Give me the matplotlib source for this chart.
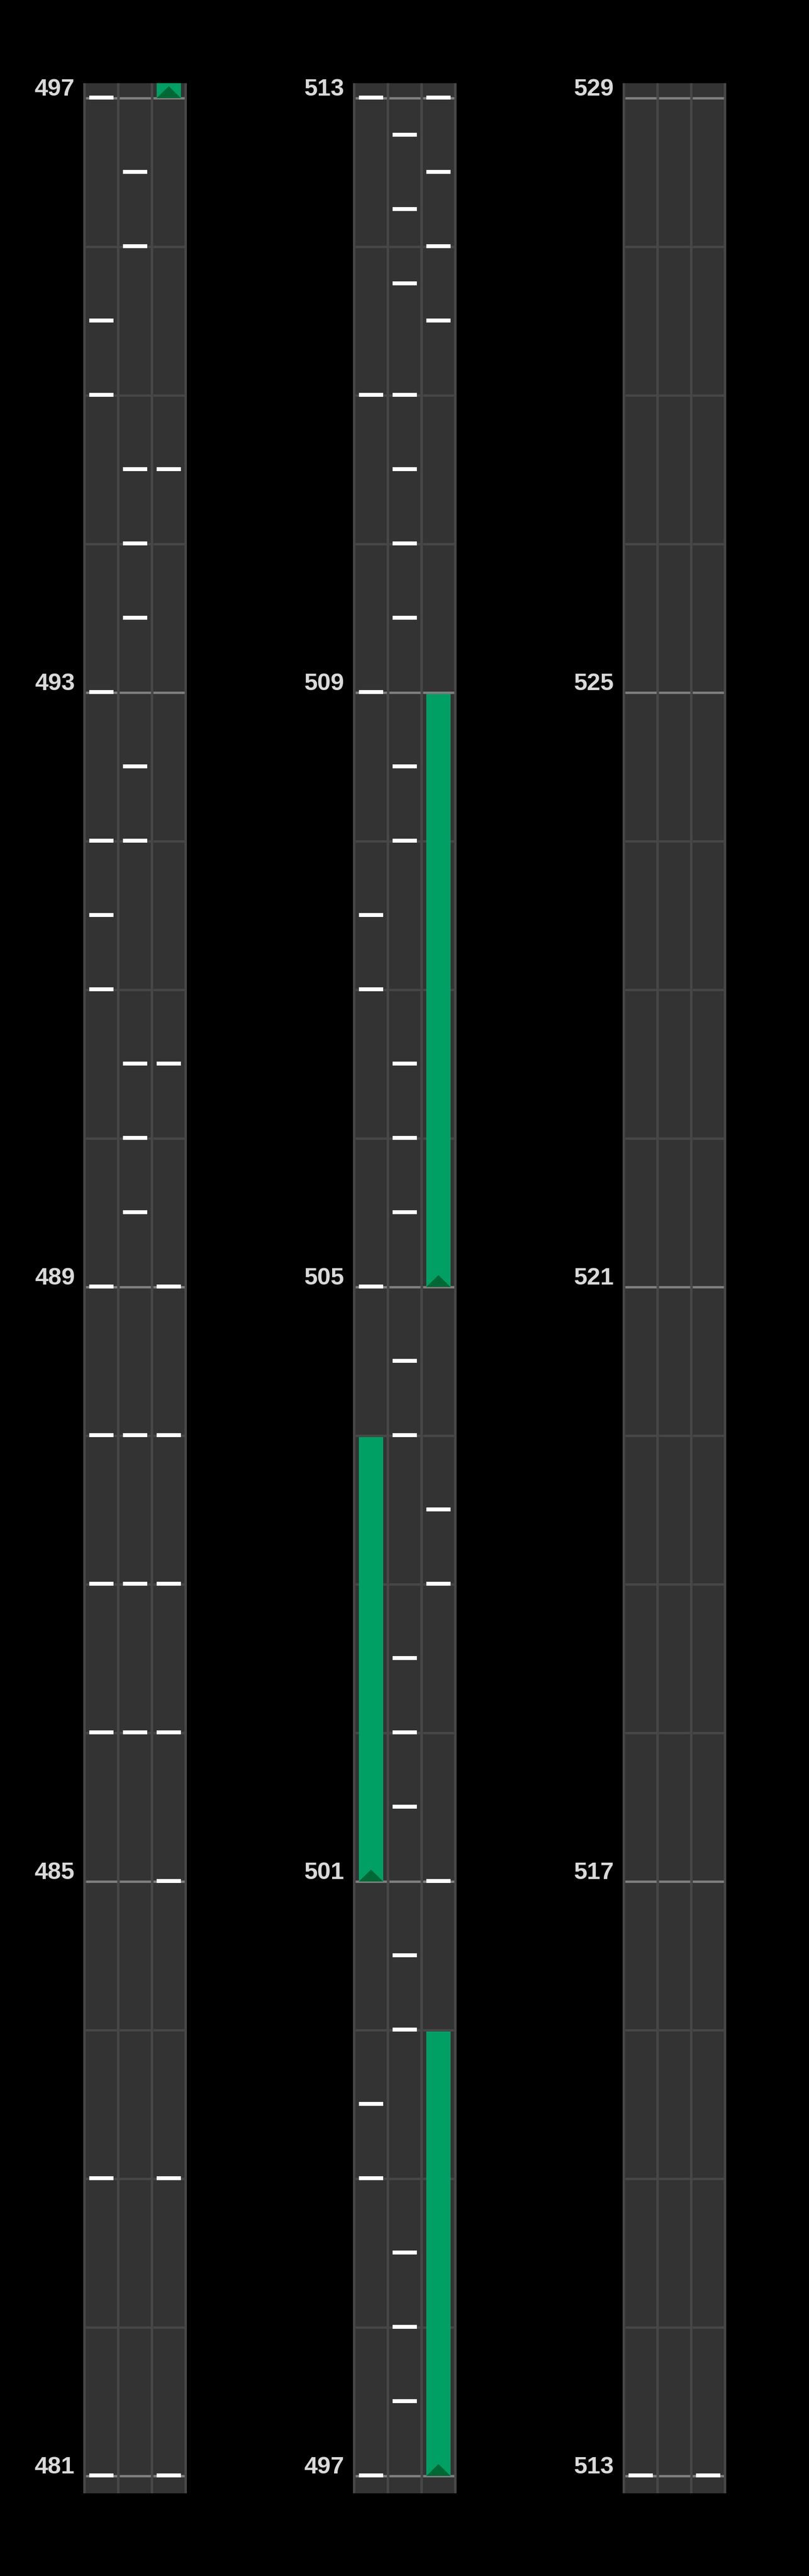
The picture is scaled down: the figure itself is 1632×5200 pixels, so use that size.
import matplotlib.pyplot as plt
from matplotlib.patches import Polygon

# Compases de inicio de cada columna (cada columna cubre 16)
inicios = [481, 497, 513]
largo = 16

# Notas simples por carril
notas_carril1 = [481, 483, 486, 487, 488, 489, 491, 491.5, 492, 493, 495, 495.5,
                 497, 499, 499.5, 505, 507, 507.5, 509, 511, 513]
notas_carril2 = [486, 487, 488, 489.5, 490, 490.5, 492, 492.5, 493.5, 494, 494.5,
                 496, 496.5, 497.5, 498, 498.5, 500, 500.5, 501.5, 502, 502.5,
                 504, 504.5, 505.5, 506, 506.5, 508, 508.5, 509.5, 510, 510.5,
                 511, 511.75, 512.25, 512.75]
notas_carril3 = [481, 483, 485, 486, 487, 488, 489, 490.5, 494.5, 501, 503, 503.5,
                 511.5, 512, 512.5, 513]

# Notas largas (inicio, fin) por carril
largas_carril1 = [(501, 504)]
largas_carril2 = []
largas_carril3 = [(497, 500), (505, 509)]

notas = [notas_carril1, notas_carril2, notas_carril3]
largas = [largas_carril1, largas_carril2, largas_carril3]

W, H = 1632, 5200
SEP = 5 / 68          # ancho del separador en unidades de carril
ANCHO_NOTA = 0.72
PX = 300              # pixeles por compas

fig = plt.figure(figsize=(W / 100, H / 100), dpi=100, facecolor='black')

for k, lo in enumerate(inicios):
    hi = lo + largo
    left = (168 + 544 * k) / W
    ax = fig.add_axes([left, 167 / H, 209 / W, 4865 / H])
    ax.set_facecolor('#474747')
    ax.set_xlim(-SEP / 2, 3 + SEP / 2)
    ax.set_ylim(lo - 35 / PX, hi + 30 / PX)
    ax.set_xticks([])
    ax.set_yticks([])
    for s in ax.spines.values():
        s.set_visible(False)

    centros = [0.5, 1.5, 2.5]
    # fondo de carriles
    ax.bar(centros, height=largo + 2, bottom=lo - 1, width=1 - SEP,
           color='#333333', zorder=1)

    # lineas de compas
    for v in range(lo, hi + 1):
        color = '#808080' if (v - lo) % 4 == 0 else '#474747'
        for c in centros:
            ax.hlines(v, c - 0.5 + SEP / 2, c + 0.5 - SEP / 2, colors=color,
                      linewidth=3.4, zorder=2)

    # notas largas
    for i, c in enumerate(centros):
        for a, b in largas[i]:
            ax.bar(c, height=b - a - 0.01, bottom=a, width=ANCHO_NOTA,
                   color='#00a064', zorder=3)
            tri = Polygon([(c - ANCHO_NOTA / 2, a), (c + ANCHO_NOTA / 2, a),
                           (c, a + 24 / PX)], closed=True,
                          facecolor='#006834', edgecolor='none', zorder=3.5)
            ax.add_patch(tri)

    # notas simples
    for i, c in enumerate(centros):
        ys = [v for v in notas[i] if lo - 0.5 <= v <= hi + 0.5]
        ax.bar([c] * len(ys), height=8 / PX, bottom=[v - 3 / PX for v in ys],
               width=ANCHO_NOTA, color='white', zorder=4)

    # etiquetas cada 4 compases
    for v in range(lo, hi + 1, 4):
        ax.annotate(str(v), xy=(0, v), xycoords=('axes fraction', 'data'),
                    xytext=(-12.5, 3.5), textcoords='offset points',
                    ha='right', va='baseline', fontsize=35, fontweight='bold',
                    color='#d9d9d9', family='Liberation Sans',
                    annotation_clip=False)

fig.savefig('out.png', dpi=100, facecolor='black')
